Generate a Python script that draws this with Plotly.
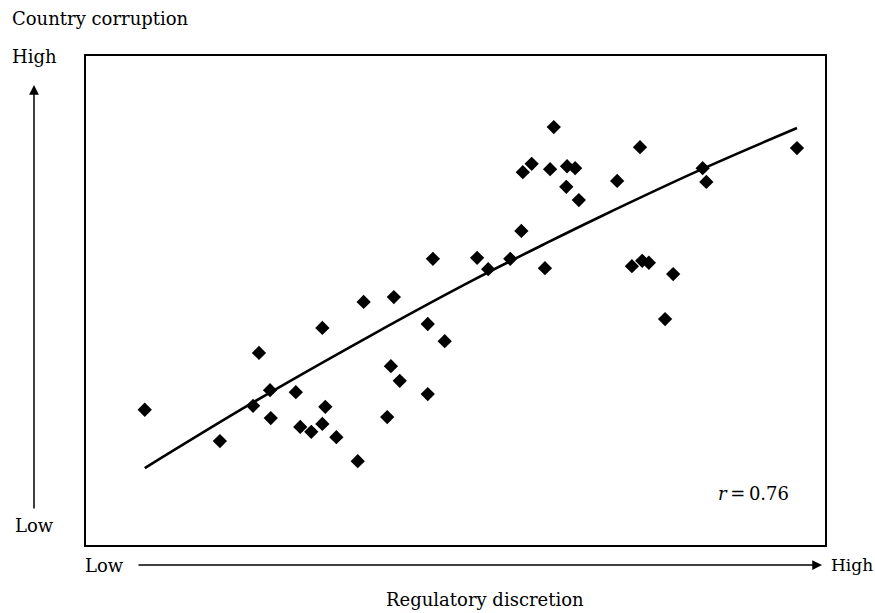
import plotly.graph_objects as go

# Scatter data (regulatory discretion vs country corruption), arbitrary 0-100 scale
discretion = [7.7, 17.9, 22.4, 23.2, 24.7, 24.8, 28.2, 28.8, 30.3, 31.8, 31.8, 32.2, 33.7,
              36.6, 37.4, 40.6, 41.1, 41.5, 42.3, 46.1, 46.1, 46.8, 48.4, 52.8, 54.3, 57.3,
              58.8, 59.0, 60.2, 62.0, 62.7, 63.2, 65.0, 64.9, 66.1, 66.6, 71.8, 73.8, 74.9,
              75.2, 76.1, 78.3, 79.4, 83.4, 83.9, 96.2]
corruption = [27.6, 21.2, 28.4, 39.2, 31.6, 25.9, 31.2, 24.1, 23.1, 44.3, 24.7, 28.2, 22.0,
              17.1, 49.6, 26.1, 36.5, 50.6, 33.5, 45.1, 30.8, 58.4, 41.6, 58.6, 56.3, 58.4,
              64.1, 76.1, 77.8, 56.5, 76.7, 85.3, 77.3, 73.1, 76.9, 70.4, 74.3, 56.9, 81.2,
              58.0, 57.6, 46.1, 55.3, 76.9, 74.1, 81.0]

# Fitted curve
fit_x = [7.7, 22.4, 38.3, 51.8, 62.3, 69.5, 83.0, 96.2]
fit_y = [15.7, 29.1, 42.7, 53.7, 61.7, 67.0, 76.5, 85.1]

FONT = "DejaVu Serif"
FS = 18

# page layout in page pixels (body margin removed in post script)
L, T, PW, PH = 86, 56, 739, 489
W, H = 875, 613

fig = go.Figure()
fig.add_trace(go.Scatter(x=fit_x, y=fit_y, mode="lines",
                         line=dict(color="black", width=2.6, shape="spline", smoothing=1.0),
                         hoverinfo="skip"))
fig.add_trace(go.Scatter(x=discretion, y=corruption, mode="markers",
                         marker=dict(symbol="diamond", size=11, color="black")))

fig.update_layout(
    width=W, height=H,
    margin=dict(l=L, r=W - L - PW, t=T, b=H - T - PH),
    paper_bgcolor="white", plot_bgcolor="white",
    showlegend=False,
    font=dict(family=FONT, color="black", size=FS),
    xaxis=dict(range=[-0.27, 100], showgrid=False, zeroline=False, showticklabels=False, ticks="",
               showline=True, mirror=True, linecolor="black", linewidth=2),
    yaxis=dict(range=[0, 99.8], showgrid=False, zeroline=False, showticklabels=False, ticks="",
               showline=True, mirror=True, linecolor="black", linewidth=2),
)


def px(xp):
    return (xp - L) / PW


def py(yp):
    return (545 - yp) / PH


ann = [
    dict(text="Country corruption", x=10, y=18, xanchor="left", size=FS),
    dict(text="High", x=10, y=56, xanchor="left", size=FS),
    dict(text="Low", x=13, y=525, xanchor="left", size=FS),
    dict(text="Low", x=126, y=565, xanchor="right", size=FS),
    dict(text="High", x=829, y=565, xanchor="left", size=17),
    dict(text="Regulatory discretion", x=485, y=599, xanchor="center", size=FS),
    dict(text="<i>r</i>\u2009=\u20090.76", x=791, y=493, xanchor="right", size=18),
]
for a in ann:
    fig.add_annotation(text=a["text"], xref="paper", yref="paper",
                       x=px(a["x"]), y=py(a["y"]),
                       xanchor=a["xanchor"], yanchor="middle", showarrow=False,
                       font=dict(family=FONT, size=a["size"], color="black"))

# Vertical arrow
fig.add_annotation(text="", xref="paper", yref="paper",
                   x=px(34), y=py(85), ax=0, ay=425,
                   showarrow=True, arrowhead=2, arrowsize=1.3, arrowwidth=1.5, arrowcolor="black")
# Horizontal arrow
fig.add_annotation(text="", xref="paper", yref="paper",
                   x=px(822), y=py(565), ax=-685, ay=0,
                   showarrow=True, arrowhead=2, arrowsize=1.3, arrowwidth=1.5, arrowcolor="black")

fig.write_html("out.html", config={"displayModeBar": False},
               post_script="document.body.style.margin='0';document.body.style.overflow='hidden';")
